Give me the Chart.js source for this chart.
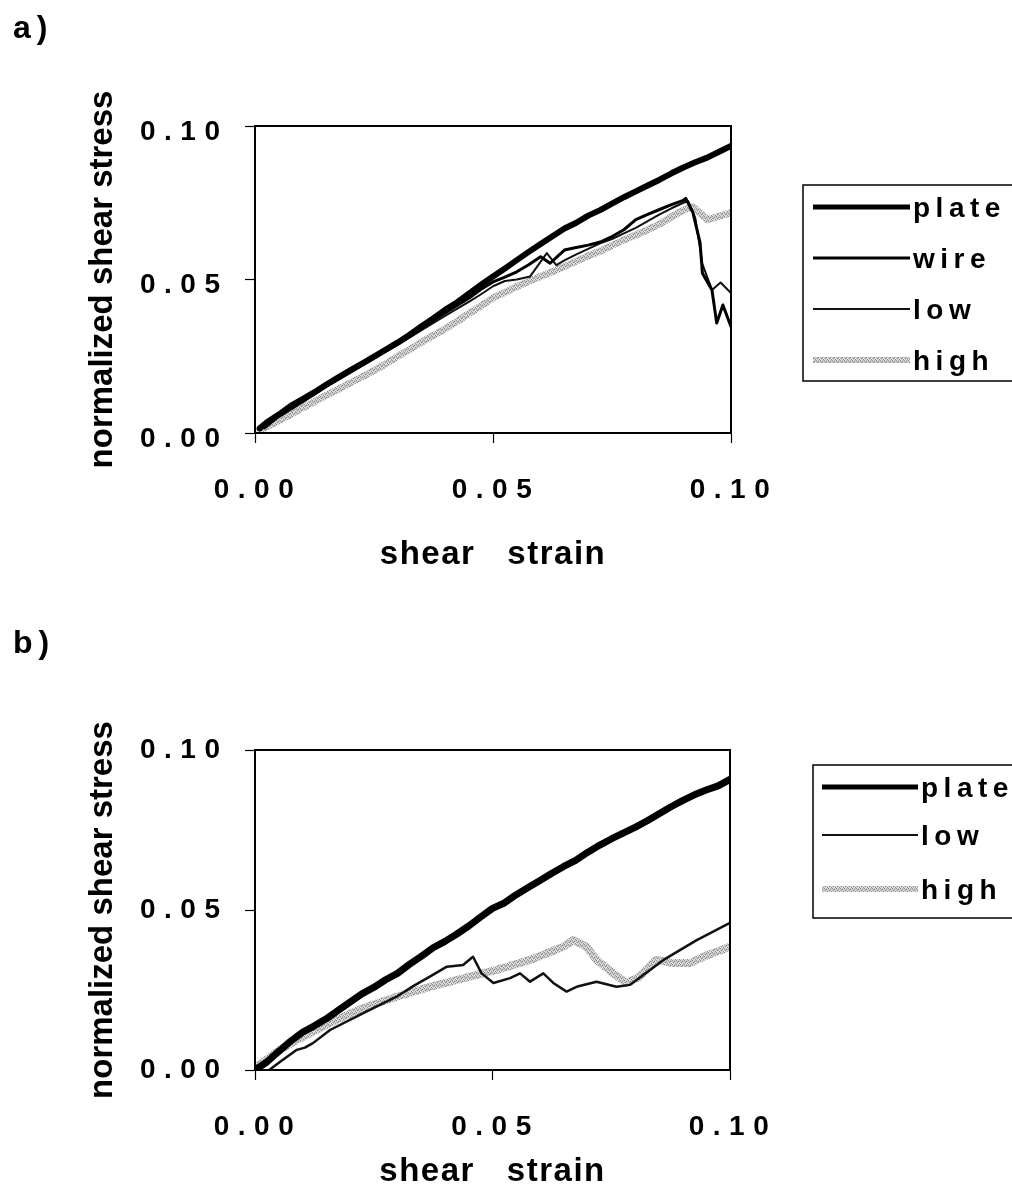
<!DOCTYPE html>
<html>
<head>
<meta charset="utf-8">
<script src="https://cdn.jsdelivr.net/npm/chart.js@4.4.1/dist/chart.umd.min.js"></script>
<style>
  html, body { margin: 0; padding: 0; background: #fff; }
  body { width: 1012px; height: 1192px; position: relative; overflow: hidden; }
  canvas { position: absolute; left: 0; display: block; }
</style>
</head>
<body>
<canvas id="chartA" width="1012" height="596" style="top:0px"></canvas>
<canvas id="chartB" width="1012" height="596" style="top:596px"></canvas>
<script>
// ---------- data ----------
const tickValues = [0, 0.05, 0.1];
const tickLabels = ['0.00', '0.05', '0.10'];
const xTitle = 'shear   strain';
const yTitle = 'normalized shear stress';
const panelLabels = ['a)', 'b)'];
const legendA = ['plate', 'wire', 'low', 'high'];
const legendB = ['plate', 'low', 'high'];

// panel a) plate
const aPlateStrain = [0.001, 0.0025, 0.005, 0.0075, 0.01, 0.0125, 0.015, 0.0175, 0.02, 0.0225, 0.025, 0.0275, 0.03, 0.0325, 0.035, 0.0375, 0.04, 0.0425, 0.045, 0.0475, 0.05, 0.0525, 0.055, 0.0575, 0.06, 0.0625, 0.065, 0.0675, 0.07, 0.0725, 0.075, 0.0775, 0.08, 0.0825, 0.085, 0.0875, 0.09, 0.0925, 0.095, 0.0975, 0.1];
const aPlateStress = [0.0015, 0.0035, 0.0060, 0.0088, 0.0110, 0.0133, 0.0158, 0.0181, 0.0204, 0.0226, 0.0249, 0.0272, 0.0295, 0.0320, 0.0348, 0.0374, 0.0402, 0.0426, 0.0455, 0.0483, 0.0510, 0.0536, 0.0563, 0.0590, 0.0616, 0.0641, 0.0666, 0.0685, 0.0708, 0.0726, 0.0747, 0.0768, 0.0787, 0.0806, 0.0825, 0.0846, 0.0865, 0.0882, 0.0897, 0.0916, 0.0935];
// panel a) wire
const aWireStrain = [0.002, 0.005, 0.01, 0.015, 0.02, 0.025, 0.03, 0.035, 0.04, 0.045, 0.0475, 0.05, 0.0525, 0.055, 0.0575, 0.06, 0.062, 0.065, 0.0675, 0.07, 0.0725, 0.075, 0.0775, 0.08, 0.0825, 0.085, 0.0875, 0.09, 0.0905, 0.092, 0.0935, 0.094, 0.096, 0.097, 0.0983, 0.1];
const aWireStress = [0.0020, 0.0058, 0.0106, 0.0155, 0.0200, 0.0247, 0.0290, 0.0342, 0.0392, 0.0440, 0.0468, 0.0492, 0.0508, 0.0525, 0.0548, 0.0574, 0.0553, 0.0596, 0.0604, 0.0612, 0.0622, 0.0640, 0.0662, 0.0695, 0.0712, 0.0728, 0.0744, 0.0758, 0.0764, 0.0718, 0.0620, 0.0520, 0.0466, 0.0358, 0.0417, 0.0346];
// panel a) low
const aLowStrain = [0.002, 0.005, 0.01, 0.015, 0.02, 0.025, 0.03, 0.035, 0.04, 0.045, 0.0475, 0.05, 0.0525, 0.055, 0.0578, 0.0613, 0.0633, 0.065, 0.0675, 0.07, 0.0725, 0.075, 0.0775, 0.08, 0.0825, 0.085, 0.0875, 0.09, 0.091, 0.0925, 0.094, 0.096, 0.0978, 0.1];
const aLowStress = [0.0015, 0.0052, 0.0100, 0.0150, 0.0196, 0.0242, 0.0287, 0.0335, 0.0382, 0.0428, 0.0452, 0.0478, 0.0495, 0.0500, 0.0510, 0.0586, 0.0547, 0.0562, 0.0582, 0.0600, 0.0618, 0.0632, 0.0650, 0.0668, 0.0690, 0.0712, 0.0732, 0.0750, 0.0755, 0.0700, 0.0550, 0.0466, 0.0490, 0.0456];
// panel a) high
const aHighStrain = [0, 0.0025, 0.005, 0.0075, 0.01, 0.0125, 0.015, 0.0175, 0.02, 0.0225, 0.025, 0.0275, 0.03, 0.0325, 0.035, 0.0375, 0.04, 0.0425, 0.045, 0.0475, 0.05, 0.0525, 0.055, 0.0575, 0.06, 0.0625, 0.065, 0.0675, 0.07, 0.0725, 0.075, 0.0775, 0.08, 0.0825, 0.085, 0.0875, 0.09, 0.092, 0.0935, 0.095, 0.0975, 0.1];
const aHighStress = [0.0000, 0.0020, 0.0040, 0.0060, 0.0082, 0.0102, 0.0123, 0.0142, 0.0163, 0.0183, 0.0204, 0.0225, 0.0250, 0.0272, 0.0296, 0.0318, 0.0340, 0.0364, 0.0390, 0.0414, 0.0440, 0.0458, 0.0477, 0.0494, 0.0510, 0.0526, 0.0542, 0.0560, 0.0577, 0.0592, 0.0611, 0.0629, 0.0645, 0.0662, 0.0681, 0.0704, 0.0726, 0.0737, 0.0716, 0.0695, 0.0706, 0.0718];

// panel b) plate
const bPlateStrain = [0, 0.0025, 0.005, 0.0075, 0.01, 0.0125, 0.015, 0.0175, 0.02, 0.0225, 0.025, 0.0275, 0.03, 0.0325, 0.035, 0.0375, 0.04, 0.0425, 0.045, 0.0475, 0.05, 0.0525, 0.055, 0.0575, 0.06, 0.0625, 0.065, 0.0675, 0.07, 0.0725, 0.075, 0.0775, 0.08, 0.0825, 0.085, 0.0875, 0.09, 0.0925, 0.095, 0.0975, 0.1];
const bPlateStress = [0.0000, 0.0025, 0.0058, 0.0090, 0.0118, 0.0138, 0.0160, 0.0186, 0.0212, 0.0238, 0.0258, 0.0282, 0.0302, 0.0330, 0.0355, 0.0382, 0.0402, 0.0425, 0.0450, 0.0478, 0.0505, 0.0522, 0.0548, 0.0570, 0.0592, 0.0615, 0.0636, 0.0655, 0.0680, 0.0702, 0.0722, 0.0740, 0.0758, 0.0778, 0.0800, 0.0822, 0.0842, 0.0860, 0.0875, 0.0888, 0.0908];
// panel b) low
const bLowStrain = [0.003, 0.0053, 0.0088, 0.0105, 0.0122, 0.0158, 0.0228, 0.0298, 0.0333, 0.0368, 0.0404, 0.0438, 0.0459, 0.0477, 0.0502, 0.0537, 0.0558, 0.0579, 0.0607, 0.0628, 0.0656, 0.0677, 0.0719, 0.0761, 0.0789, 0.086, 0.093, 0.1];
const bLowStress = [0.0000, 0.0026, 0.0063, 0.0070, 0.0084, 0.0125, 0.0178, 0.0229, 0.0262, 0.0292, 0.0323, 0.0328, 0.0354, 0.0302, 0.0272, 0.0287, 0.0302, 0.0276, 0.0302, 0.0272, 0.0245, 0.0260, 0.0276, 0.0260, 0.0266, 0.0344, 0.0406, 0.0460];
// panel b) high
const bHighStrain = [0.0003, 0.0053, 0.0088, 0.0158, 0.0228, 0.0298, 0.0368, 0.0438, 0.0509, 0.0579, 0.0649, 0.067, 0.0698, 0.0719, 0.0754, 0.0782, 0.081, 0.0845, 0.088, 0.0916, 0.0944, 0.1];
const bHighStress = [0.0010, 0.0063, 0.0094, 0.0147, 0.0194, 0.0229, 0.0260, 0.0286, 0.0313, 0.0344, 0.0385, 0.0406, 0.0385, 0.0344, 0.0302, 0.0272, 0.0292, 0.0344, 0.0334, 0.0334, 0.0354, 0.0385];

// ---------- helpers ----------
const FAMILY = '"Liberation Sans", Arial, Helvetica, sans-serif';
const zip = (xs, ys) => xs.map((x, i) => ({ x: x, y: ys[i] }));

function spacingFor(s) {
  if (tickLabels.includes(s)) return '8.5px';
  if (panelLabels.includes(s)) return '6px';
  if (s === xTitle) return '1.5px';
  if (legendA.includes(s) || legendB.includes(s)) return '5.5px';
  return '0px';
}
function patchText(ctx) {
  const native = CanvasRenderingContext2D.prototype.fillText;
  ctx.fillText = function (text, x, y) {
    const s = String(text);
    const prev = this.letterSpacing;
    this.letterSpacing = spacingFor(s);
    native.call(this, s, x, y);
    this.letterSpacing = prev;
  };
}

function makeStipple() {
  const c = document.createElement('canvas');
  c.width = 4; c.height = 4;
  const g = c.getContext('2d');
  g.fillStyle = '#c4c4c4'; g.fillRect(0, 0, 4, 4);
  g.fillStyle = '#8c8c8c';
  [[0, 0], [2, 1], [1, 2], [3, 3]].forEach(p => g.fillRect(p[0], p[1], 1, 1));
  g.fillStyle = '#e6e6e6';
  [[1, 0], [3, 2], [0, 3], [2, 3]].forEach(p => g.fillRect(p[0], p[1], 1, 1));
  return g.createPattern(c, 'repeat');
}

function frameLegendPlugin(spec) {
  return {
    id: 'frameLegend',
    afterDraw(chart) {
      const ctx = chart.ctx, a = chart.chartArea;
      ctx.save();
      ctx.strokeStyle = '#000';
      ctx.lineWidth = 2;
      ctx.strokeRect(a.left, a.top, a.right - a.left, a.bottom - a.top);
      // legend box
      ctx.lineWidth = 1.5;
      ctx.strokeRect(spec.left, spec.top, spec.right - spec.left, spec.bottom - spec.top);
      ctx.font = 'bold 28px ' + FAMILY;
      ctx.textBaseline = 'alphabetic';
      ctx.textAlign = 'left';
      chart.data.datasets.forEach((ds, i) => {
        const base = spec.rows[i];
        ctx.strokeStyle = ds.borderColor;
        ctx.lineWidth = spec.widths[i];
        ctx.lineCap = 'butt';
        ctx.beginPath();
        ctx.moveTo(spec.x0, base - 10);
        ctx.lineTo(spec.x1, base - 10);
        ctx.stroke();
        ctx.fillStyle = '#000';
        ctx.fillText(ds.label, spec.textX, base);
      });
      ctx.restore();
    }
  };
}

function buildChart(id, cfg) {
  const canvas = document.getElementById(id);
  const ctx = canvas.getContext('2d');
  patchText(ctx);
  const tickFont = { family: FAMILY, size: 28, weight: 'bold' };
  return new Chart(ctx, {
    type: 'line',
    data: { datasets: cfg.datasets },
    plugins: [frameLegendPlugin(cfg.legend)],
    options: {
      responsive: false,
      animation: false,
      devicePixelRatio: 1,
      events: [],
      layout: { padding: { left: 13, right: cfg.rightPad, top: 0, bottom: 0 } },
      elements: {
        point: { radius: 0 },
        line: { tension: 0, fill: false, borderJoinStyle: 'round', borderCapStyle: 'round' }
      },
      plugins: {
        legend: { display: false },
        tooltip: { enabled: false },
        title: {
          display: true, text: cfg.panel, align: 'start', color: '#000',
          font: { family: FAMILY, size: 32, weight: 'bold' },
          padding: { top: cfg.titleTop, bottom: cfg.titleBottom }
        }
      },
      scales: {
        x: {
          type: 'linear', min: 0, max: 0.1,
          afterBuildTicks: s => { s.ticks = tickValues.map(v => ({ value: v })); },
          afterFit: s => { s.height = cfg.xHeight; },
          ticks: {
            callback: (v, i) => tickLabels[i],
            font: tickFont, color: '#000', padding: cfg.xTickPad, labelOffset: 3,
            maxRotation: 0, autoSkip: false
          },
          grid: { drawOnChartArea: false, drawTicks: true, tickLength: 10, tickColor: '#000', tickWidth: 1.2, color: '#000' },
          border: { display: true, color: '#000', width: 2 },
          title: {
            display: true, text: xTitle, color: '#000',
            font: { family: FAMILY, size: 33, weight: 'bold' },
            padding: { top: 0, bottom: cfg.xTitlePad }
          }
        },
        y: {
          type: 'linear', min: 0, max: 0.1,
          afterBuildTicks: s => { s.ticks = tickValues.map(v => ({ value: v })); },
          afterFit: s => { s.width = 242; },
          ticks: {
            callback: (v, i) => tickLabels[i],
            font: tickFont, color: '#000', padding: 16.5, labelOffset: cfg.yLabelOffset,
            autoSkip: false
          },
          grid: { drawOnChartArea: false, drawTicks: true, tickLength: 10, tickColor: '#000', tickWidth: 1.2, color: '#000' },
          border: { display: true, color: '#000', width: 2 },
          title: {
            display: true, text: yTitle, color: '#000',
            font: { family: FAMILY, size: 33, weight: 'bold' },
            padding: { top: 70, bottom: 0 }
          }
        }
      }
    }
  });
}

const stipple = makeStipple();

buildChart('chartA', {
  panel: panelLabels[0],
  rightPad: 281, titleTop: 9.7, titleBottom: 77.9, xHeight: 163,
  xTickPad: 30, xTitlePad: 21, yLabelOffset: 6,
  legend: { left: 803, top: 185, right: 1030, bottom: 381, rows: [217, 268, 319, 370], widths: [5, 3, 2, 6], x0: 813, x1: 910, textX: 913 },
  datasets: [
    { label: legendA[0], data: zip(aPlateStrain, aPlateStress), borderColor: '#000', borderWidth: 6 },
    { label: legendA[1], data: zip(aWireStrain, aWireStress), borderColor: '#000', borderWidth: 3 },
    { label: legendA[2], data: zip(aLowStrain, aLowStress), borderColor: '#111', borderWidth: 2 },
    { label: legendA[3], data: zip(aHighStrain, aHighStress), borderColor: stipple, borderWidth: 7 }
  ]
});

buildChart('chartB', {
  panel: panelLabels[1],
  rightPad: 282, titleTop: 28.7, titleBottom: 86.9, xHeight: 122,
  xTickPad: 30, xTitlePad: 0, yLabelOffset: 0,
  legend: { left: 813, top: 169, right: 1030, bottom: 322, rows: [201, 249, 303], widths: [5, 2, 6], x0: 822, x1: 918, textX: 921 },
  datasets: [
    { label: legendB[0], data: zip(bPlateStrain, bPlateStress), borderColor: '#000', borderWidth: 7 },
    { label: legendB[1], data: zip(bLowStrain, bLowStress), borderColor: '#111', borderWidth: 2.5 },
    { label: legendB[2], data: zip(bHighStrain, bHighStress), borderColor: stipple, borderWidth: 8 }
  ]
});
</script>
</body>
</html>
